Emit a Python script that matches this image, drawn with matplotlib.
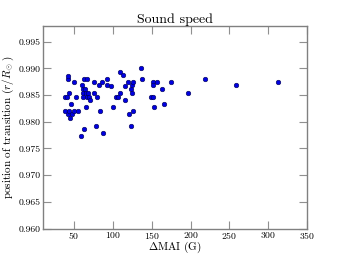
import numpy as np
import matplotlib
matplotlib.use("Agg")
import matplotlib.pyplot as plt

# values
mai = [38.0, 38.5, 40.6, 41.5, 42.3, 42.7, 43.6, 43.6, 44.4, 46.2,
       47.0, 49.6, 50.4, 52.6, 55.1, 59.4, 60.7, 61.5, 61.1, 62.0,
       62.4, 63.2, 63.7, 65.0, 65.4, 66.2, 66.7, 67.9, 68.8, 70.5,
       75.6, 76.1, 77.8, 79.5, 81.6, 83.3, 86.3, 87.2, 91.9, 91.9,
       97.4, 100.4, 104.3, 106.8, 108.5, 109.0, 113.2, 115.0, 115.8, 118.8,
       120.1, 122.6, 123.5, 123.9, 124.4, 125.2, 126.1, 135.9, 137.2, 149.1,
       150.9, 150.9, 151.3, 152.6, 156.8, 165.8, 162.8, 174.4, 196.6, 218.4,
       258.5, 312.8]
rpos = [0.9847, 0.9820, 0.9847, 0.9880, 0.9886, 0.9814, 0.9853, 0.9820, 0.9807, 0.9833,
        0.9814, 0.9874, 0.9820, 0.9847, 0.9820, 0.9773, 0.9868, 0.9861, 0.9853, 0.9847,
        0.9787, 0.9880, 0.9861, 0.9853, 0.9827, 0.9880, 0.9847, 0.9853, 0.9847, 0.9840,
        0.9874, 0.9853, 0.9793, 0.9847, 0.9868, 0.9820, 0.9874, 0.9779, 0.9880, 0.9868,
        0.9867, 0.9827, 0.9847, 0.9847, 0.9894, 0.9853, 0.9888, 0.9867, 0.9840, 0.9874,
        0.9814, 0.9861, 0.9793, 0.9868, 0.9853, 0.9820, 0.9874, 0.9901, 0.9880, 0.9847,
        0.9847, 0.9874, 0.9868, 0.9827, 0.9874, 0.9833, 0.9861, 0.9874, 0.9853, 0.9880,
        0.9868, 0.9874]

plt.rcParams['font.family'] = 'cmr10'
plt.rcParams['mathtext.fontset'] = 'cm'
plt.rcParams['axes.unicode_minus'] = False
plt.rcParams['axes.formatter.use_mathtext'] = True

fig = plt.figure(figsize=(3.42, 2.54), dpi=100)
ax = fig.add_axes([0.126, 0.1, 0.772, 0.799])

ax.plot(mai, rpos, 'o', color='#0000e0', markeredgecolor='#000050',
        markeredgewidth=0.4, markersize=3.3)

ax.set_xlim(10, 350)
ax.set_ylim(0.960, 0.998)
ax.set_xticks(np.arange(50, 351, 50))
ax.set_yticks(np.arange(0.960, 0.9951, 0.005))
ax.set_yticklabels(['%.3f' % v for v in np.arange(0.960, 0.9951, 0.005)])

for s in ax.spines.values():
    s.set_color('#808080')
    s.set_linewidth(1.0)
ax.tick_params(direction='in', top=True, right=True, length=6, width=0.8,
               color='#909090', labelsize=7, pad=1.5)
ax.tick_params(axis='x', pad=1)

ax.set_title('Sound speed', fontsize=10, pad=2)
ax.set_xlabel(r'$\Delta$MAI (G)', fontsize=8, labelpad=-1)
ax.set_ylabel(r'position of transition ($r/R_\odot$)', fontsize=8, labelpad=2)

fig.savefig('out.png', dpi=100)
